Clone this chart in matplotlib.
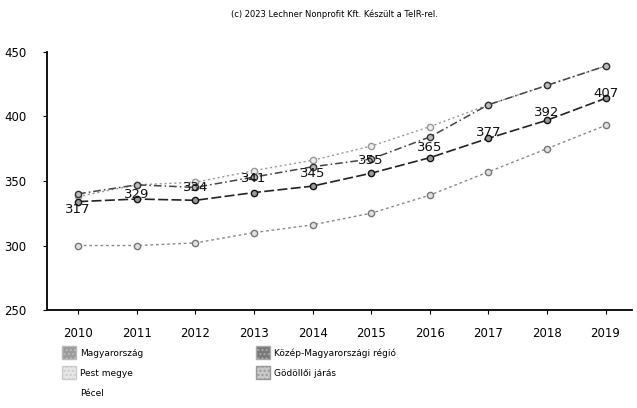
import matplotlib.pyplot as plt
from matplotlib.patches import Patch
from matplotlib.lines import Line2D

years = [2010, 2011, 2012, 2013, 2014, 2015, 2016, 2017, 2018, 2019]

magyarorszag = [300, 300, 302, 310, 316, 325, 339, 357, 375, 393]
kozep_magyar = [334, 336, 335, 341, 346, 356, 368, 383, 397, 414]
pest_megye = [340, 347, 345, 353, 361, 367, 384, 409, 424, 439]
godolloi = [338, 347, 349, 358, 366, 377, 392, 409, 424, 439]
pecel = [317, 329, 334, 341, 345, 355, 365, 377, 392, 407]

fig = plt.figure(figsize=(6.37, 4.08), dpi=100)
ax = fig.add_axes([0.074, 0.24, 0.918, 0.633])

ax.plot(years, magyarorszag, color='#8a8a8a', ls=(0, (2, 2)), lw=1,
        marker='o', ms=4.5, mfc='#e0e0e0', mec='#777777')
ax.plot(years, godolloi, color='#9a9a9a', ls=(0, (1.5, 2)), lw=1,
        marker='o', ms=4.5, mfc='#eeeeee', mec='#999999')
ax.plot(years, pest_megye, color='#444444', ls=(0, (5, 2, 1, 2)), lw=1.1,
        marker='o', ms=4.5, mfc='#bbbbbb', mec='#333333')
ax.plot(years, kozep_magyar, color='#222222', ls=(0, (6, 2)), lw=1.2,
        marker='o', ms=4.5, mfc='#999999', mec='#111111')

# Pécel: only data labels are visible
for x, v in zip(years, pecel):
    ax.annotate(str(v), xy=(x, v), xytext=(0, 10), textcoords='offset points',
                ha='center', va='center', fontsize=9.5, color='#111111')

ax.set_xlim(2009.47, 2019.45)
ax.set_ylim(250, 450)
ax.set_yticks([250, 300, 350, 400, 450])
ax.set_xticks(years)
ax.spines['top'].set_visible(False)
ax.spines['right'].set_visible(False)
ax.spines['left'].set_linewidth(1.3)
ax.spines['bottom'].set_linewidth(1.3)
ax.tick_params(axis='both', labelsize=8.5, length=3, width=0.8)
ax.tick_params(axis='x', pad=9)
ax.tick_params(axis='y', pad=12)

fig.text(0.525, 0.965, '(c) 2023 Lechner Nonprofit Kft. Készült a TeIR-rel.',
         ha='center', va='center', fontsize=6)

handles = [
    Patch(facecolor='#9a9a9a', edgecolor='#bbbbbb', hatch='....'),
    Patch(facecolor='#e6e6e6', edgecolor='#cccccc', hatch='....'),
    Line2D([], [], color='none'),
    Patch(facecolor='#777777', edgecolor='#aaaaaa', hatch='....'),
    Patch(facecolor='#c8c8c8', edgecolor='#999999', hatch='....'),
]
labels = ['Magyarország', 'Pest megye', 'Pécel',
          'Közép-Magyarországi régió', 'Gödöllői járás']
fig.legend(handles, labels, ncol=2, loc='upper left',
           bbox_to_anchor=(0.085, 0.172), frameon=False, fontsize=6.5,
           handlelength=1.5, handleheight=1.9, handletextpad=0.5,
           columnspacing=12.5, labelspacing=0.75)

fig.savefig('out.png', dpi=100)
